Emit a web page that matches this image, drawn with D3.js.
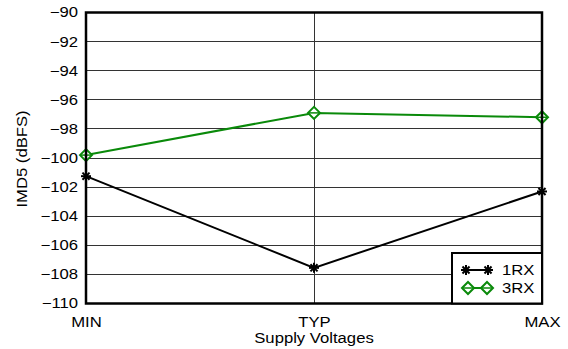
<!DOCTYPE html>
<html><head><meta charset="utf-8">
<script src="https://cdn.jsdelivr.net/npm/d3@7"></script>
<style>body{margin:0;background:#fff}svg{display:block}text{font-family:"Liberation Sans",Arial,sans-serif}</style>
</head><body><svg id="c" width="568" height="349"></svg>
<script>
const categories = ["MIN","TYP","MAX"];
const rx1 = [-101.25, -107.55, -102.3];
const rx3 = [-99.8, -96.9, -97.2];
const yTicks = [-110,-108,-106,-104,-102,-100,-98,-96,-94,-92,-90];
const seriesNames = ["1RX","3RX"];

const svg = d3.select("#c");
const L=86,R=542,T=12.5,B=303.5;
const x = d3.scalePoint().domain(categories).range([L,R]);
const y = d3.scaleLinear().domain([-110,-90]).range([B,T]);
const FS = 14, SX = 1.19;
function stretch(sel){
  sel.each(function(){
    const w=this.getComputedTextLength();
    d3.select(this).attr("textLength",w*SX).attr("lengthAdjust","spacingAndGlyphs");
  });
}
const crisp = v => Math.round(v-0.5)+0.5;

// grid
svg.append("g").selectAll("line").data(yTicks.slice(1,-1)).join("line")
  .attr("x1",L).attr("x2",R).attr("y1",d=>crisp(y(d))).attr("y2",d=>crisp(y(d)))
  .attr("stroke","#333").attr("stroke-width",1);
svg.append("line").attr("x1",crisp(x("TYP"))).attr("x2",crisp(x("TYP"))).attr("y1",T).attr("y2",B)
  .attr("stroke","#333").attr("stroke-width",1);

// axes
const ya = svg.append("g").attr("transform",`translate(${L},0)`)
  .call(d3.axisLeft(y).tickValues(yTicks).tickSize(0).tickPadding(8).tickFormat(d3.format("d")));
ya.select(".domain").remove();
ya.selectAll("text").attr("font-size",FS).attr("fill","#000").attr("font-family","'Liberation Sans',Arial,sans-serif").call(stretch);
const xa = svg.append("g").attr("transform",`translate(0,${B})`)
  .call(d3.axisBottom(x).tickSize(0).tickPadding(0));
xa.select(".domain").remove();
xa.selectAll("text").attr("dy",null).attr("y",327-B).attr("font-size",FS).attr("fill","#000")
  .attr("font-family","'Liberation Sans',Arial,sans-serif").call(stretch);

svg.append("text").attr("x",(L+R)/2).attr("y",343).attr("text-anchor","middle")
  .attr("font-size",FS).text("Supply Voltages").call(stretch);
svg.append("text").attr("transform",`translate(27,${(T+B)/2+1}) rotate(-90)`).attr("text-anchor","middle")
  .attr("font-size",FS).text("IMD5 (dBFS)").call(stretch);

const line = d3.line().x((d,i)=>x(categories[i])).y(d=>y(d));
svg.append("path").datum(rx3).attr("d",line).attr("fill","none").attr("stroke","#0a8a0a").attr("stroke-width",2);
svg.append("path").datum(rx1).attr("d",line).attr("fill","none").attr("stroke","#000").attr("stroke-width",2);

function diamond(g,cx,cy){
  g.append("path").attr("d",`M${cx-6},${cy}L${cx},${cy-6}L${cx+6},${cy}L${cx},${cy+6}Z`)
   .attr("fill","#fff").attr("stroke","#0a8a0a").attr("stroke-width",2);
  g.append("line").attr("x1",cx-5).attr("x2",cx+5).attr("y1",cy).attr("y2",cy).attr("stroke","#0a8a0a").attr("stroke-width",1.5);
}
function star(g,cx,cy){
  const r=5;
  [0,45,90,135].forEach(a=>{
    const rad=a*Math.PI/180;
    g.append("line").attr("x1",cx-r*Math.cos(rad)).attr("y1",cy-r*Math.sin(rad))
     .attr("x2",cx+r*Math.cos(rad)).attr("y2",cy+r*Math.sin(rad))
     .attr("stroke","#000").attr("stroke-width",2);
  });
}
const mk = svg.append("g");
rx3.forEach((v,i)=>diamond(mk,x(categories[i]),y(v)));
rx1.forEach((v,i)=>star(mk,x(categories[i]),y(v)));

// border
svg.append("rect").attr("x",L).attr("y",T).attr("width",R-L).attr("height",B-T)
  .attr("fill","none").attr("stroke","#000").attr("stroke-width",2.5);

// legend
const lg = svg.append("g");
lg.append("rect").attr("x",452).attr("y",253).attr("width",R-452).attr("height",B-253)
  .attr("fill","#fff").attr("stroke","#000").attr("stroke-width",2);
const ly=[270,288];
lg.append("line").attr("x1",466).attr("x2",488).attr("y1",ly[0]).attr("y2",ly[0]).attr("stroke","#000").attr("stroke-width",2);
star(lg,466,ly[0]); star(lg,488,ly[0]);
lg.append("line").attr("x1",468).attr("x2",487).attr("y1",ly[1]).attr("y2",ly[1]).attr("stroke","#0a8a0a").attr("stroke-width",2);
diamond(lg,468,ly[1]); diamond(lg,487,ly[1]);
lg.selectAll("text.lt").data(seriesNames).join("text").attr("class","lt")
  .attr("x",502).attr("y",(d,i)=>ly[i]+5).attr("font-size",FS).text(d=>d).call(stretch);
</script></body></html>
